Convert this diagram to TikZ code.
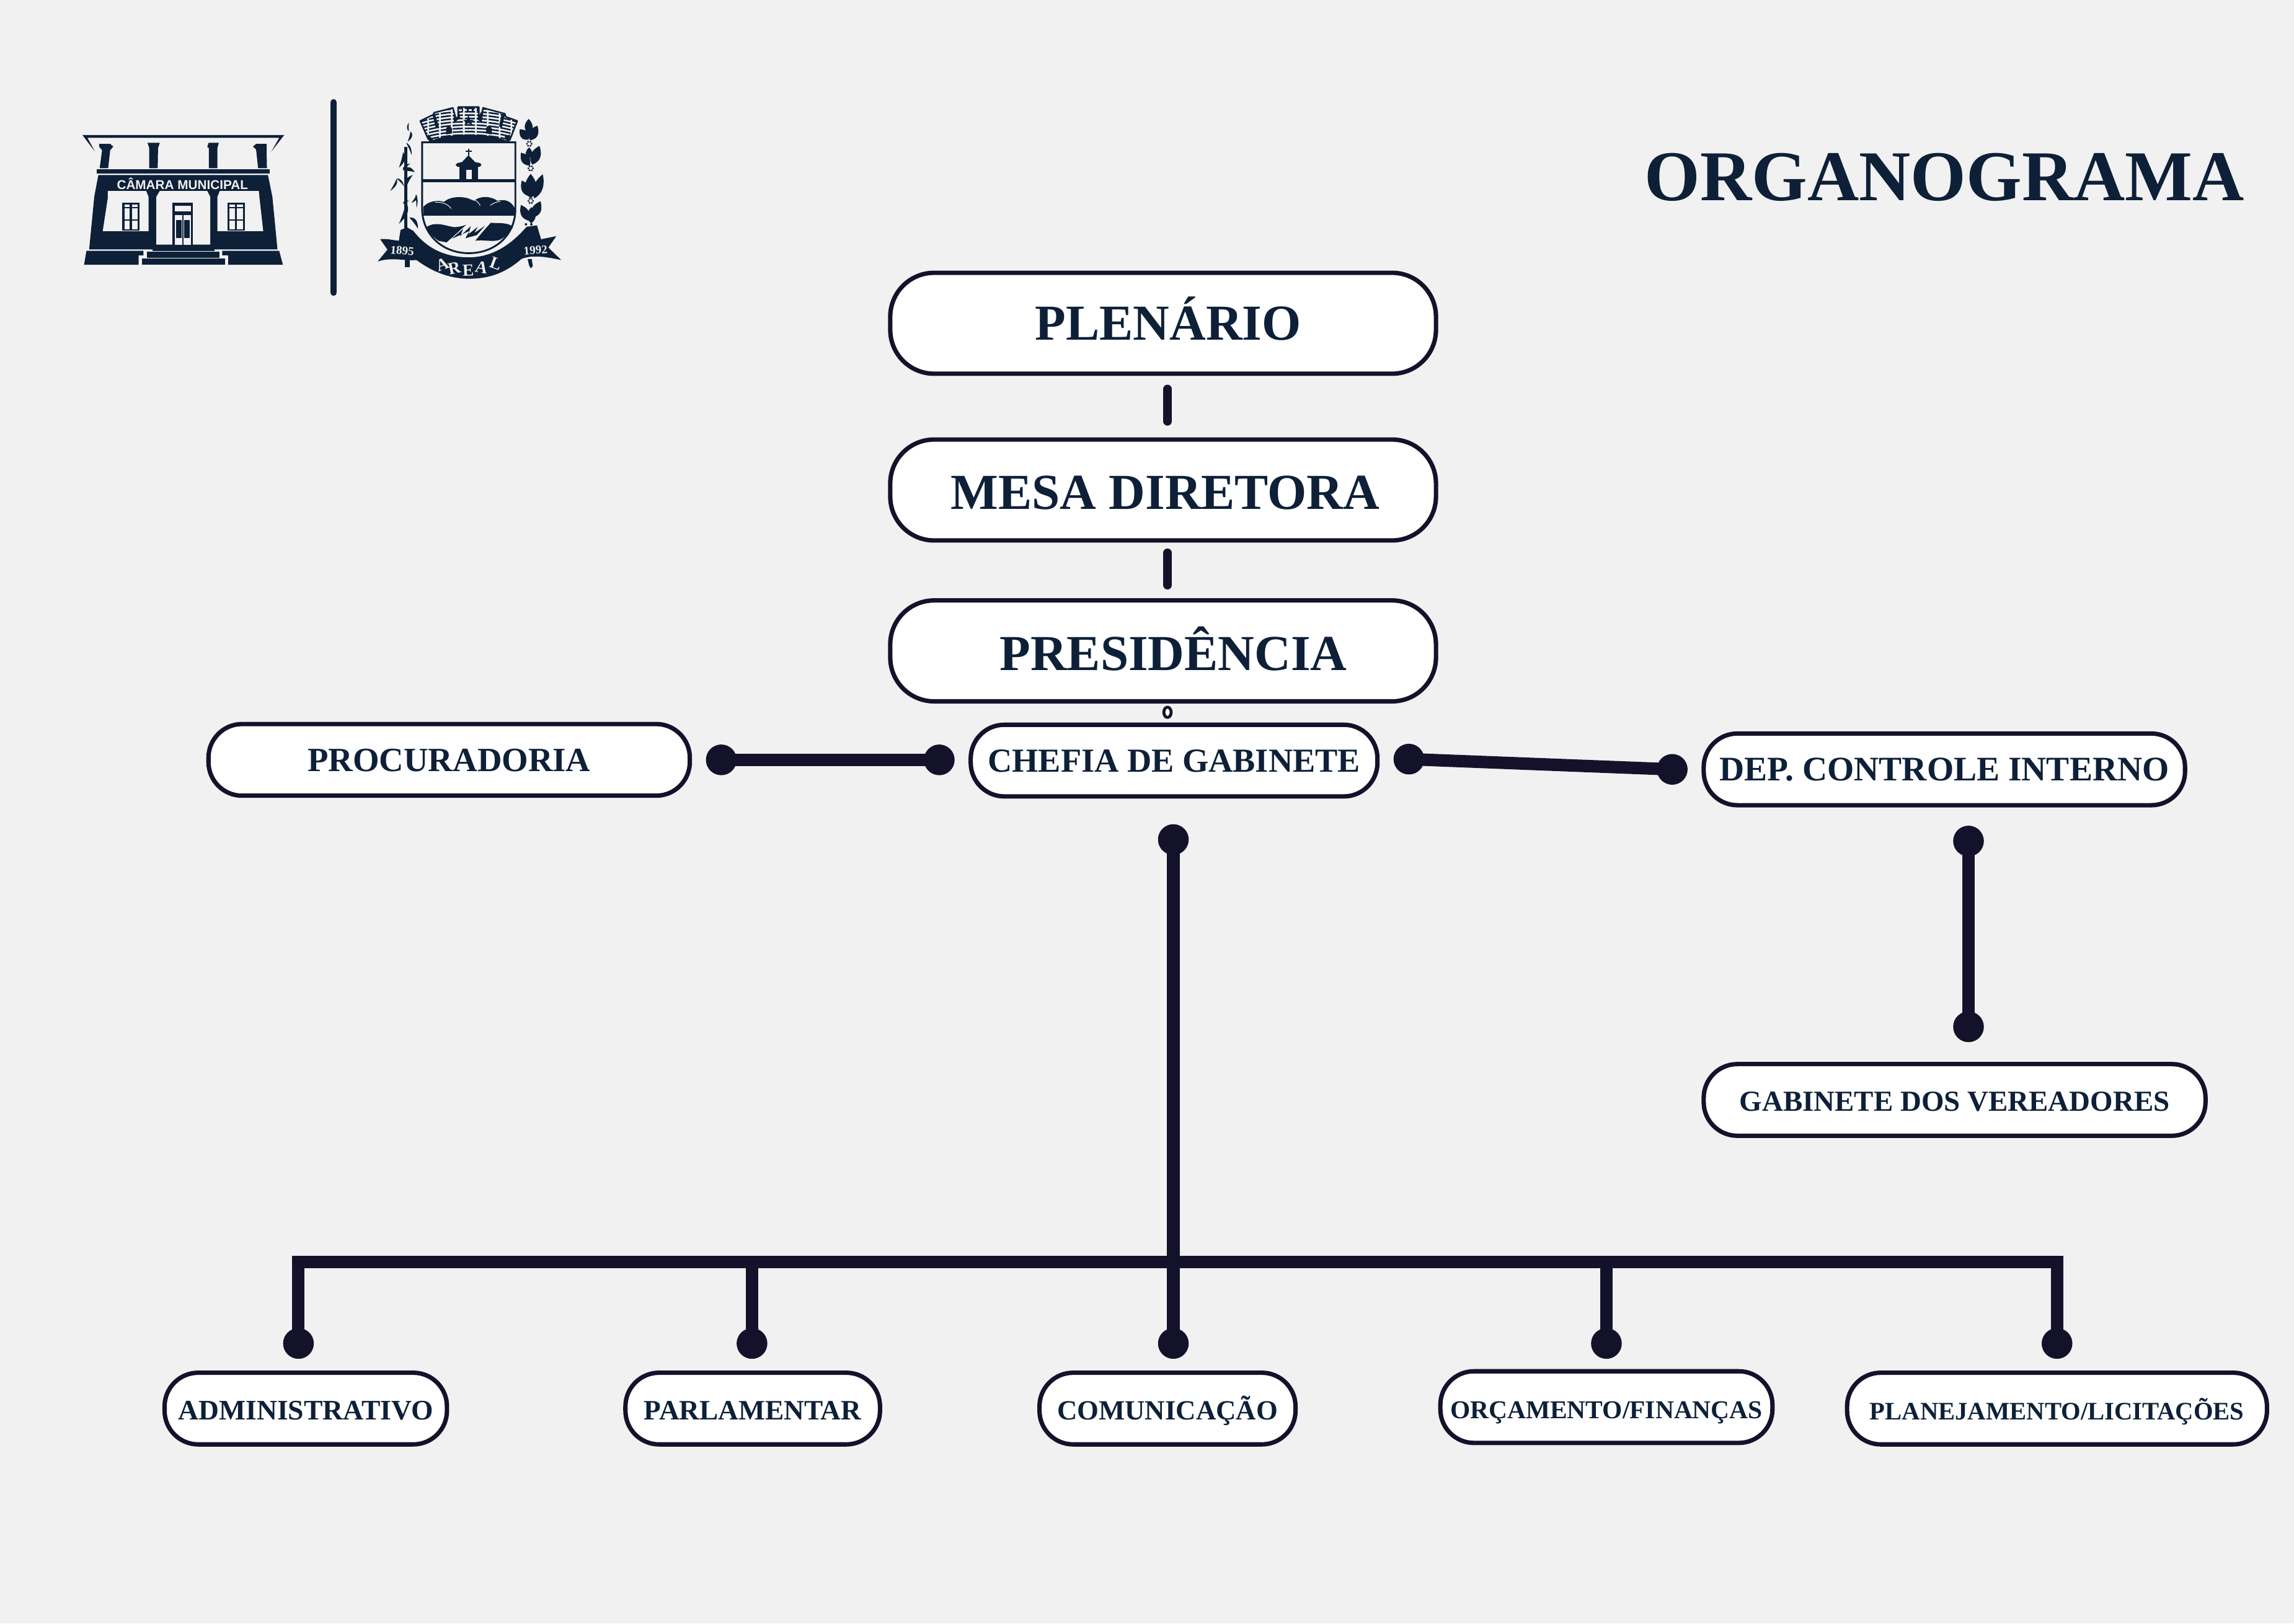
\documentclass[tikz,border=0pt]{standalone}
\usepackage{fontspec}
\setmainfont{Liberation Serif}
\setsansfont{Liberation Sans}
\usepackage{xcolor}
\usetikzlibrary{calc}
\definecolor{paper}{HTML}{F1F1F1}
\definecolor{navy}{HTML}{0D2038}
\definecolor{inkline}{HTML}{14122B}
\newcommand{\fs}[1]{\fontsize{#1}{#1}\selectfont\bfseries}
\tikzset{
  orgbox/.style={draw=inkline, fill=white, line width=0.03cm, inner sep=0pt, text=navy, minimum height=0.49cm, rounded corners=0.23cm, text height=4.4pt, text depth=0pt},
  bigbox/.style={orgbox, minimum width=3.73cm, minimum height=0.69cm, rounded corners=0.3cm, font=\fs{9.8}, text height=6.5pt},
  wire/.style={draw=inkline, line width=0.085cm, line join=miter},
  stub/.style={draw=inkline, line width=0.06cm, line cap=round},
  dot/.style={fill=inkline},
  logo/.style={fill=navy},
  hole/.style={fill=paper}
}
\begin{document}
\begin{tikzpicture}[line join=round]
  \fill[paper] (0,0) rectangle (15.68,11.10);
  \useasboundingbox (0,0) rectangle (15.68,11.10);

  % title
  \node[text=navy, font=\fs{13.9}] (title) at (13.29,9.89) {ORGANOGRAMA};

  % boxes
  \node[bigbox] (plenario) at (7.95,8.89) {\hspace*{0.07cm}PLENÁRIO};
  \node[bigbox, text height=7.5pt] (mesa) at (7.95,7.75) {\hspace*{0.03cm}MESA DIRETORA};
  \node[bigbox, text height=7.5pt] (presidencia) at (7.95,6.65) {\hspace*{0.14cm}PRESIDÊNCIA};
  \node[orgbox, minimum width=3.29cm, font=\fs{6.6}] (procuradoria) at (3.07,5.905) {PROCURADORIA};
  \node[orgbox, minimum width=2.78cm, font=\fs{6.55}] (chefia) at (8.025,5.90) {CHEFIA DE GABINETE};
  \node[orgbox, minimum width=3.29cm, font=\fs{6.7}] (controle) at (13.29,5.84) {DEP. CONTROLE INTERNO};
  \node[orgbox, minimum width=3.43cm, font=\fs{5.66}] (vereadores) at (13.36,3.58) {GABINETE DOS VEREADORES};
  \node[orgbox, minimum width=1.93cm, font=\fs{5.5}] (administrativo) at (2.09,1.47) {ADMINISTRATIVO};
  \node[orgbox, minimum width=1.74cm, font=\fs{5.46}] (parlamentar) at (5.145,1.47) {PARLAMENTAR};
  \node[orgbox, minimum width=1.75cm, font=\fs{5.4}] (comunicacao) at (7.98,1.47) {COMUNICAÇÃO};
  \node[orgbox, minimum width=2.27cm, font=\fs{5}] (financas) at (10.98,1.48) {ORÇAMENTO/FINANÇAS};
  \node[orgbox, minimum width=2.87cm, font=\fs{4.9}] (licitacoes) at (14.06,1.47) {PLANEJAMENTO/LICITAÇÕES};

  % connector ends
  \coordinate (plenarioEnd) at (7.98,8.44);
  \coordinate (mesaTop) at (7.98,8.22);
  \coordinate (mesaEnd) at (7.98,7.32);
  \coordinate (presidenciaTop) at (7.98,7.10);
  \coordinate (gabineteMark) at (7.98,6.23);
  \coordinate (procA) at (4.93,5.905);
  \coordinate (procB) at (6.42,5.905);
  \coordinate (contA) at (9.63,5.91);
  \coordinate (contB) at (11.43,5.84);
  \coordinate (vereA) at (13.455,5.35);
  \coordinate (vereB) at (13.455,4.08);
  \coordinate (chefiaEnd) at (8.02,5.36);
  \coordinate (busMid) at (8.02,2.47);
  \coordinate (adminDot) at (2.04,1.915);
  \coordinate (parlDot) at (5.14,1.915);
  \coordinate (comDot) at (8.02,1.915);
  \coordinate (finDot) at (10.98,1.915);
  \coordinate (licDot) at (14.06,1.915);

  \draw[stub] (plenarioEnd) -- (mesaTop);
  \draw[stub] (mesaEnd) -- (presidenciaTop);
  \draw[draw=inkline, fill=white, line width=0.02cm] (gabineteMark) circle [x radius=0.025, y radius=0.035];
  \draw[wire] (procA) -- (procB);
  \draw[wire] (contA) -- (contB);
  \draw[wire] (vereA) -- (vereB);
  \draw[wire] (chefiaEnd) -- (comDot);
  \draw[wire] (adminDot) |- (busMid) -| (licDot);
  \draw[wire] (parlDot) -- (parlDot |- busMid);
  \draw[wire] (finDot) -- (finDot |- busMid);
  \foreach \p in {procA,procB,contA,contB,vereA,vereB,chefiaEnd,adminDot,parlDot,comDot,finDot,licDot}
    \fill[dot] (\p) circle [radius=0.105];

  % divider between the two marks
  \draw[navy, line width=0.045cm, line cap=round] (2.28,10.40) -- (2.28,9.10);

  % building
  \begin{scope}[shift={(0.424,10.549)}, x=0.002324cm, y=-0.001412cm]
    \fill[logo] (60,262) -- (655,262) -- (617,342) -- (640,276) -- (75,276) -- (97,342) -- cycle;
    \fill[logo] (110,305) -- (142,305) -- (151,318) -- (142,335) -- (136,422) -- (111,422) -- (118,335) -- (110,320) -- cycle;
    \fill[logo] (252,300) -- (288,300) -- (283,325) -- (282,422) -- (257,422) -- (257,325) -- cycle;
    \fill[logo] (432,300) -- (462,300) -- (458,325) -- (458,422) -- (433,422) -- (433,325) -- (428,320) -- cycle;
    \fill[logo] (572,305) -- (603,305) -- (603,340) -- (604,422) -- (578,422) -- (572,332) -- (563,318) -- cycle;
    \fill[logo] (102,427) rectangle (613,448);
    \fill[logo] (107,455) -- (607,455) -- (620,560) -- (635,813) -- (80,813) -- (95,560) -- cycle;
    \fill[hole] (135,532) -- (248,532) -- (255,560) -- (255,725) -- (120,725) -- (135,565) -- cycle;
    \fill[hole] (288,532) -- (428,532) -- (437,560) -- (437,790) -- (278,790) -- (278,560) -- cycle;
    \fill[hole] (465,532) -- (580,532) -- (582,565) -- (593,725) -- (458,725) -- (458,560) -- cycle;
    \foreach \wx in {178,488}{
      \fill[logo] (\wx,587) rectangle (\wx+51,722);
      \fill[hole] (\wx+6,597) rectangle (\wx+22,610);
      \fill[hole] (\wx+28,597) rectangle (\wx+45,610);
      \fill[hole] (\wx+6,615) rectangle (\wx+22,668);
      \fill[hole] (\wx+28,615) rectangle (\wx+45,668);
      \fill[hole] (\wx+6,675) rectangle (\wx+22,716);
      \fill[hole] (\wx+28,675) rectangle (\wx+45,716);
    }
    \fill[logo] (326,587) rectangle (386,790);
    \fill[hole] (333,602) rectangle (380,630);
    \fill[hole] (333,648) rectangle (380,790);
    \fill[logo] (336,673) rectangle (353,757);
    \fill[logo] (360,673) rectangle (377,757);
    \fill[logo] (355,648) rectangle (358,790);
    \fill[logo] (72,820) -- (240,820) -- (240,842) -- (226,842) -- (226,887) -- (65,887) -- cycle;
    \fill[logo] (472,820) -- (640,820) -- (651,887) -- (490,887) -- (490,842) -- (472,842) -- cycle;
    \fill[logo] (266,790) rectangle (450,820);
    \fill[logo] (250,825) rectangle (465,853);
    \fill[logo] (235,858) rectangle (480,887);
    \node[text=paper, font=\sffamily\fontsize{2.5}{2.5}\selectfont\bfseries] (camaraText) at (355,497) {CÂMARA MUNICIPAL};
  \end{scope}

  % crest, in steps of a third of a reference pixel
  \begin{scope}[shift={(2.542,10.422)}, x=0.0014124cm, y=-0.0014124cm]
    % crown
    \begin{scope}
      \clip (233,105) -- (295,75) -- (300,65) -- (390,42) -- (405,95) -- (415,85) -- (415,38) -- (515,38) -- (515,85) -- (528,95) -- (535,42) -- (640,70) -- (645,85) -- (700,105) -- (665,195) -- (650,205) .. controls (570,165) and (370,165) .. (285,205) -- (270,190) -- cycle;
      \fill[paper] (200,30) rectangle (720,210);
      \foreach \r in {0,16,...,160}
        \draw[navy, line width=0.3pt, dash pattern=on 0.07cm off 0.012cm] (220,210-\r) .. controls (350,160-\r) and (580,160-\r) .. (710,210-\r);
    \end{scope}
    \draw[navy, line width=0.3pt] (233,105) -- (295,75) -- (300,65) -- (390,42) -- (405,95) -- (415,85) -- (415,38) -- (515,38) -- (515,85) -- (528,95) -- (535,42) -- (640,70) -- (645,85) -- (700,105) -- (665,195) -- (650,205) .. controls (570,165) and (370,165) .. (285,205) -- (270,190) -- cycle;
    \fill[logo] (293,80) -- (305,75) -- (322,130) -- (308,140) -- cycle;
    \fill[logo] (625,72) -- (640,78) -- (625,140) -- (612,130) -- cycle;
    \fill[logo] (395,50) -- (405,95) -- (415,85) -- (418,50) -- (425,90) -- (395,115) -- cycle;
    \fill[logo] (512,85) -- (530,55) -- (530,115) -- (505,95) -- cycle;
    \fill[logo] (358,170) -- (358,140) .. controls (365,125) and (380,130) .. (385,140) -- (385,165) -- cycle;
    \fill[logo] (550,165) -- (550,140) .. controls (555,125) and (570,125) .. (577,140) -- (577,170) -- cycle;
    \fill[logo] (270,170) -- (295,195) -- (285,205) -- (268,190) -- cycle;
    \fill[logo] (640,180) -- (665,170) -- (662,195) -- (650,205) -- cycle;
    \fill[logo] (465,75) -- (473,100) -- (490,100) -- (478,110) -- (484,125) -- (465,115) -- (446,125) -- (452,110) -- (440,100) -- (457,100) -- cycle;
    \foreach \cx in {432,458,482,504}
      \fill[logo] (\cx,44) rectangle (\cx+7,56);
    \fill[logo] (290,207) .. controls (370,160) and (570,160) .. (650,207) -- cycle;
    % shield
    \draw[navy, line width=0.35pt, line join=miter] (242,208) -- (691,208) -- (691,540) .. controls (685,660) and (590,742) .. (467,742) .. controls (345,742) and (250,660) .. (242,540) -- cycle;
    \fill[logo] (242,385) rectangle (691,400);
    % chapel
    \fill[logo] (422,320) rectangle (510,386);
    \fill[logo] (403,316) -- (412,308) -- (434,303) -- (465,270) -- (497,303) -- (520,308) -- (528,316) -- (520,326) -- (412,326) -- cycle;
    \fill[hole] (453,340) rectangle (480,386);
    \fill[logo] (462,240) rectangle (469,272);
    \fill[logo] (452,249) rectangle (480,255);
    % hills
    \fill[logo] (247,520) .. controls (270,490) and (320,485) .. (347,495) .. controls (380,465) and (450,465) .. (492,490) .. controls (520,465) and (570,465) .. (605,490) .. controls (640,480) and (670,490) .. (688,525) -- (687,561) -- (247,561) -- cycle;
    \draw[paper, line width=0.12pt] (305,497) .. controls (340,495) and (365,505) .. (382,527);
    \draw[paper, line width=0.12pt] (470,480) .. controls (490,480) and (510,490) .. (522,513);
    \draw[paper, line width=0.12pt] (570,512) .. controls (585,500) and (600,495) .. (620,492);
    % river
    \fill[logo] (262,617) .. controls (300,590) and (340,605) .. (385,615) .. controls (410,620) and (440,610) .. (455,605) -- (360,690) -- (320,682) .. controls (290,660) and (270,640) .. (262,617) -- cycle;
    \fill[logo] (570,595) .. controls (600,600) and (650,590) .. (680,615) .. controls (665,645) and (640,665) .. (615,678) .. controls (580,690) and (530,675) .. (498,682) -- cycle;
    \fill[hole] (362,690) -- (454,606) -- (428,650) -- (486,590) -- (475,645) -- (522,600) -- (500,640) -- (577,590) -- (495,680) -- (510,640) -- (435,690) -- (462,645) -- cycle;
    \fill[logo] (385,672) -- (440,625) -- (425,660) -- (476,612) -- (466,650) -- (510,615) -- (493,645) -- (545,610) -- (505,655) -- (450,670) -- (470,635) -- cycle;
    % ribbon
    \fill[logo] (40,675) .. controls (70,670) and (100,680) .. (130,682) -- (138,630) -- (170,618) -- (200,635) .. controls (250,700) and (330,762) .. (467,762) .. controls (590,762) and (680,690) .. (745,615) -- (795,608) -- (815,675) -- (888,660) -- (850,715) -- (912,775) .. controls (860,765) and (780,745) .. (720,770) .. controls (640,840) and (560,865) .. (470,865) .. controls (370,865) and (290,830) .. (215,775) .. controls (160,780) and (90,760) .. (28,782) -- (75,725) -- cycle;
    \fill[logo] (160,770) rectangle (182,808);
    \fill[logo] (750,770) -- (770,770) -- (775,805) -- (765,815) -- (757,800) -- cycle;
    \node[text=paper, font=\fs{2.3}, rotate=-5] (yearA) at (146,730) {1895};
    \node[text=paper, font=\fs{2.3}, rotate=5] (yearB) at (788,728) {1992};
    \node[text=paper, font=\fs{3.3}, rotate=20] (arealA) at (340,797) {A};
    \node[text=paper, font=\fs{3.3}, rotate=12] (arealR) at (397,815) {R};
    \node[text=paper, font=\fs{3.3}, rotate=2] (arealE) at (464,824) {E};
    \node[text=paper, font=\fs{3.3}, rotate=-10] (arealF) at (528,811) {A};
    \node[text=paper, font=\fs{3.3}, rotate=-20] (arealL) at (597,793) {L};
    % cane
    \fill[logo] (157,230) rectangle (171,640);
    \foreach \bx/\by/\tx/\ty/\w in {178/155/178/112/9,186/155/172/205/14,165/210/192/270/10,150/255/130/330/18,155/345/207/352/20,150/345/185/310/12,120/382/88/442/12,120/382/155/420/10,165/425/197/365/20,215/460/190/500/12,210/460/215/525/8,165/498/130/600/22,150/505/180/490/10,180/570/222/625/18}
      \fill[logo] (\bx,\by) .. controls ($(\bx,\by)!.3!(\tx,\ty)!0.07pt*\w!90:(\tx,\ty)$) and ($(\bx,\by)!.7!(\tx,\ty)!0.035pt*\w!90:(\tx,\ty)$) .. (\tx,\ty) .. controls ($(\bx,\by)!.7!(\tx,\ty)!0.006pt*\w!90:(\tx,\ty)$) and ($(\bx,\by)!.3!(\tx,\ty)!0.006pt*\w!90:(\tx,\ty)$) .. (\bx,\by) -- cycle;
    % laurel
    \foreach \bx/\by/\tx/\ty/\w in {755/165/755/95/24,755/195/712/145/26,762/198/797/128/28,757/285/757/232/20,760/320/718/258/26,772/315/807/225/30,765/478/765/360/36,758/468/722/392/26,782/478/823/362/28,755/585/718/510/26,775/570/812/492/28,768/598/768/520/26}
      \fill[logo] (\bx,\by) .. controls ($(\bx,\by)!.35!(\tx,\ty)!0.055pt*\w!90:(\tx,\ty)$) and ($(\bx,\by)!.75!(\tx,\ty)!0.028pt*\w!90:(\tx,\ty)$) .. (\tx,\ty) .. controls ($(\bx,\by)!.75!(\tx,\ty)!0.028pt*\w!-90:(\tx,\ty)$) and ($(\bx,\by)!.35!(\tx,\ty)!0.055pt*\w!-90:(\tx,\ty)$) .. (\bx,\by) -- cycle;
    \foreach \cx/\cy in {758/215,765/333,765/490}
      \foreach \a in {0,60,...,300}
        \fill[logo] ($(\cx,\cy)+(\a:11)$) circle [radius=5];
    \fill[logo] (742,603) circle [radius=6];
    \fill[logo] (768,603) circle [radius=6];
  \end{scope}
\end{tikzpicture}
\end{document}
